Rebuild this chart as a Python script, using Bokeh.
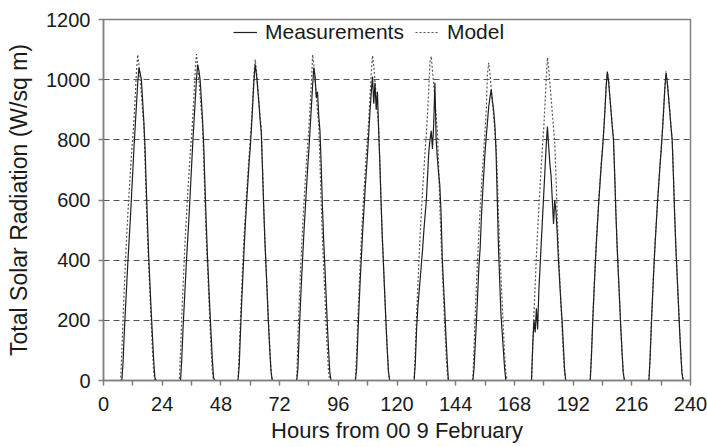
from bokeh.plotting import figure
from bokeh.models import Range1d, FixedTicker, Legend, LegendItem
from bokeh.embed import file_html
from bokeh.resources import INLINE

# ---- data (half-hourly daytime readings, W/sq m) ----
day_starts = [0, 24, 48, 72, 96, 120, 144, 168, 192, 216]
day_hours = [7.0, 7.5, 8.0, 8.5, 9.0, 9.5, 10.0, 10.5, 11.0, 11.5, 12.0, 12.5,
             13.0, 13.5, 14.0, 14.5, 15.0, 15.5, 16.0, 16.5, 17.0, 17.5, 18.0,
             18.5, 19.0, 19.5, 20.0, 20.5, 21.0, 21.5]

meas_d1 = [0, 0, 60, 160, 240, 320, 400, 470, 540, 620, 700, 780, 850, 920, 990, 1040, 1020, 1000, 930, 860, 770, 640, 520, 410, 320, 230, 150, 70, 10, 0]
meas_d2 = [0, 0, 70, 170, 250, 330, 410, 480, 550, 630, 710, 790, 860, 930, 1000, 1050, 1030, 1000, 935, 865, 775, 645, 525, 415, 325, 235, 150, 70, 10, 0]
meas_d3 = [0, 50, 160, 260, 350, 440, 520, 590, 655, 720, 775, 840, 915, 995, 1050, 1020, 975, 925, 870, 825, 705, 575, 460, 370, 275, 180, 100, 30, 0, 0]
meas_d4 = [0, 40, 150, 250, 340, 420, 500, 570, 640, 710, 770, 840, 910, 980, 1040, 1010, 940, 960, 880, 830, 720, 580, 470, 380, 285, 190, 105, 30, 0, 0]
meas_d5 = [0, 40, 150, 250, 340, 420, 500, 570, 640, 700, 760, 830, 900, 960, 1010, 920, 990, 900, 960, 830, 720, 590, 475, 380, 285, 190, 105, 30, 0, 0]
meas_d6 = [0, 60, 170, 240, 290, 340, 390, 440, 500, 550, 600, 680, 760, 800, 830, 770, 850, 990, 800, 740, 690, 650, 560, 410, 320, 240, 150, 70, 0, 0]
meas_d7 = [0, 40, 120, 200, 290, 380, 440, 540, 620, 690, 760, 810, 860, 910, 940, 967, 930, 900, 850, 760, 600, 440, 330, 220, 160, 100, 40, 0, 0, 0]
meas_d8 = [0, 120, 200, 160, 240, 170, 300, 380, 460, 540, 620, 700, 780, 844, 780, 720, 680, 600, 520, 600, 560, 490, 400, 330, 260, 200, 120, 40, 0, 0]
meas_d9 = [0, 80, 190, 285, 375, 455, 525, 595, 655, 715, 765, 825, 895, 975, 1025, 995, 945, 895, 845, 800, 685, 555, 445, 355, 265, 175, 95, 25, 0, 0]
meas_d10 = [0, 75, 185, 280, 370, 450, 520, 590, 650, 710, 765, 825, 895, 970, 1022, 990, 945, 895, 845, 800, 685, 555, 445, 355, 265, 175, 95, 25, 0, 0]

model_d1 = [0, 95, 210, 305, 400, 485, 560, 630, 695, 760, 810, 875, 950, 1030, 1083, 1050, 1000, 950, 895, 850, 730, 590, 475, 380, 285, 190, 105, 30, 0, 0]
model_d2 = [0, 95, 210, 305, 400, 485, 560, 630, 695, 760, 810, 875, 950, 1030, 1085, 1050, 1000, 950, 895, 850, 730, 590, 475, 380, 285, 190, 105, 30, 0, 0]
model_d3 = [0, 95, 205, 300, 395, 480, 550, 620, 685, 745, 800, 860, 935, 1015, 1067, 1035, 985, 935, 880, 840, 715, 580, 465, 375, 280, 185, 105, 30, 0, 0]
model_d4 = [0, 150, 260, 355, 445, 525, 595, 665, 730, 785, 845, 915, 990, 1083, 1050, 1000, 950, 895, 850, 730, 590, 475, 380, 285, 190, 105, 30, 0, 0, 0]
model_d5 = [0, 95, 210, 305, 400, 485, 560, 630, 695, 760, 810, 875, 950, 1025, 1080, 1045, 995, 945, 890, 845, 725, 590, 475, 380, 285, 190, 105, 30, 0, 0]
model_d6 = [0, 100, 215, 310, 405, 490, 565, 635, 700, 765, 820, 890, 970, 1060, 1078, 1030, 985, 935, 880, 830, 715, 580, 470, 375, 280, 185, 100, 30, 0, 0]
model_d7 = [0, 110, 225, 320, 410, 495, 570, 640, 705, 770, 830, 900, 1020, 1056, 1020, 975, 930, 880, 830, 785, 680, 550, 440, 350, 260, 170, 90, 25, 0, 0]
model_d8 = [0, 110, 225, 320, 415, 500, 575, 645, 715, 780, 840, 920, 1000, 1073, 1040, 990, 940, 890, 840, 790, 680, 550, 440, 350, 260, 170, 90, 25, 0, 0]
model_d9 = [0, 90, 200, 290, 380, 460, 530, 600, 660, 720, 770, 830, 900, 980, 1028, 1000, 950, 900, 850, 810, 690, 560, 450, 360, 270, 180, 100, 30, 0, 0]
model_d10 = [0, 85, 195, 285, 375, 455, 525, 595, 655, 715, 770, 830, 900, 975, 1028, 995, 950, 900, 850, 805, 690, 560, 450, 360, 270, 180, 100, 30, 0, 0]

x_ticks = [0, 24, 48, 72, 96, 120, 144, 168, 192, 216, 240]
x_minor = [12, 36, 60, 84, 108, 132, 156, 180, 204, 228]
y_ticks = [0, 200, 400, 600, 800, 1000, 1200]
grid_levels = [200, 400, 600, 800, 1000]

meas_days = [meas_d1, meas_d2, meas_d3, meas_d4, meas_d5, meas_d6, meas_d7, meas_d8, meas_d9, meas_d10]
model_days = [model_d1, model_d2, model_d3, model_d4, model_d5, model_d6, model_d7, model_d8, model_d9, model_d10]

def build(days):
    xs, ys = [0.0], [0.0]
    for start, vals in zip(day_starts, days):
        for h, v in zip(day_hours, vals):
            xs.append(start + h)
            ys.append(v)
    xs.append(240.0)
    ys.append(0.0)
    return xs, ys

mx, my = build(meas_days)
ox, oy = build(model_days)

FONT = "Liberation Sans"

p = figure(width=707, height=447, output_backend="svg", toolbar_location=None,
           x_range=Range1d(0, 240), y_range=Range1d(0, 1200),
           min_border_left=103, min_border_right=17, min_border_top=19, min_border_bottom=67)
p.background_fill_color = "white"
p.border_fill_color = "white"
p.outline_line_color = "#808080"
p.outline_line_width = 1.5

r_model = p.line(ox, oy, line_color="#555555", line_width=1.2, line_dash="2 2")
r_meas = p.line(mx, my, line_color="#1f1f1f", line_width=1.2)

p.xaxis.ticker = FixedTicker(ticks=x_ticks, minor_ticks=x_minor)
p.yaxis.ticker = FixedTicker(ticks=y_ticks)
for ax in (p.xaxis[0], p.yaxis[0]):
    ax.axis_line_color = "#808080"
    ax.axis_line_width = 1.5
    ax.major_tick_line_color = "#808080"
    ax.major_tick_line_width = 1.5
    ax.minor_tick_line_color = "#808080"
    ax.minor_tick_line_width = 1.5
    ax.major_tick_in = 0
    ax.major_tick_out = 5
    ax.minor_tick_in = 0
    ax.minor_tick_out = 5
    ax.major_label_text_font = FONT
    ax.major_label_text_font_size = "20px"
    ax.major_label_text_color = "#1a1a1a"
    ax.axis_label_text_font = FONT
    ax.axis_label_text_font_style = "normal"
    ax.axis_label_text_color = "#1a1a1a"
p.yaxis.minor_tick_out = 0
p.yaxis.major_label_standoff = 8
p.xaxis.major_label_standoff = 11
p.xaxis.axis_label = "Hours from 00 9 February"
p.yaxis.axis_label = "Total Solar Radiation (W/sq m)"
p.xaxis.axis_label_text_font_size = "22px"
p.yaxis.axis_label_text_font_size = "23px"
p.xaxis.axis_label_standoff = 4
p.yaxis.axis_label_standoff = 11

p.xgrid.visible = False
p.ygrid.ticker = FixedTicker(ticks=grid_levels)
p.ygrid.grid_line_color = "#555555"
p.ygrid.grid_line_width = 1.2
p.ygrid.grid_line_dash = "6 4"

legend = Legend(items=[LegendItem(label="Measurements", renderers=[r_meas]),
                       LegendItem(label="Model", renderers=[r_model])],
                orientation="horizontal", location=(130, 336),
                padding=0, margin=0, spacing=11, glyph_width=24, glyph_height=20,
                label_height=20, label_standoff=8,
                label_text_font=FONT, label_text_font_size="21px",
                label_text_color="#1a1a1a",
                background_fill_alpha=0, border_line_alpha=0)
p.add_layout(legend)

open("out.html", "w").write(file_html(p, INLINE))
